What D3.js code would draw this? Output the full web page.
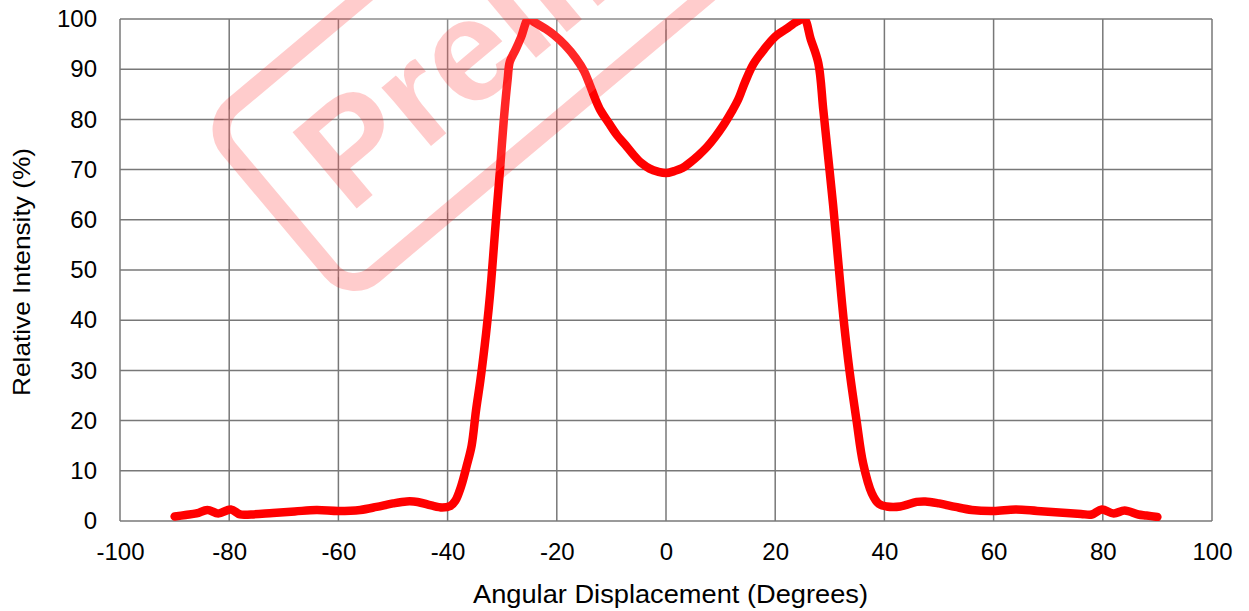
<!DOCTYPE html>
<html>
<head>
<meta charset="utf-8">
<script src="https://cdn.jsdelivr.net/npm/d3@7"></script>
<style>
  html, body { margin: 0; padding: 0; background: #ffffff; }
  svg { display: block; }
  text { font-family: "Liberation Sans", Arial, sans-serif; }
</style>
</head>
<body>
<svg id="chart" width="1249" height="611"></svg>
<script>
// Angular intensity profile
const angles = [-90, -88, -86, -84, -82, -79.7, -78, -76, -72, -68, -64, -60, -56, -53, -50, -47.5, -45.5, -43, -41, -39.5, -38.6,
  -37.5, -36.5, -35.6, -34.8, -34, -33.2, -32.5, -32, -31.5, -31, -30.4, -29.7, -29, -28.6, -27.5, -26.5, -25.2,
  -24, -22, -20.5, -18.5, -16.5, -15, -14, -13, -12, -10.5, -9, -7.5, -6, -4.5, -3, -1.5, 0,
  1.5, 3, 4.5, 6, 7.5, 9, 10.5, 12, 13.2, 14.5, 16, 18, 20, 22, 24, 25.3, 26.5, 27.9, 28.8, 29.7,
  30.6, 31.6, 32.5, 33.6, 34.9, 36.1, 37.7, 39, 40.4, 42.9, 45.9, 47.5, 50, 53, 56, 60, 64,
  68, 72, 76, 78, 79.8, 82, 84, 86.5, 88, 90];
const intensity = [0.9, 1.2, 1.5, 2.2, 1.5, 2.3, 1.3, 1.3, 1.6, 1.9, 2.2, 2.0, 2.2, 2.8, 3.5, 3.9, 3.8, 3.1, 2.7, 3.0, 4.0,
  7, 11, 15, 22, 28, 35, 42, 48, 55, 62, 70, 80, 88, 91.5, 94, 96.5, 100,
  99.3, 98, 96.8, 94.8, 92.2, 89.6, 87, 84.2, 81.8, 79.3, 76.9, 75, 73, 71.3, 70.2, 69.6, 69.3,
  69.7, 70.3, 71.5, 72.9, 74.5, 76.5, 78.8, 81.5, 83.9, 87.5, 91, 94, 96.5, 98, 99.5, 100, 96, 91.2, 82, 72.5,
  63, 51, 40.5, 30, 20, 11.5, 5.5, 3.4, 2.9, 2.9, 3.8, 3.9, 3.5, 2.8, 2.2, 2.0, 2.3,
  2.0, 1.7, 1.4, 1.3, 2.3, 1.5, 2.1, 1.3, 1.1, 0.8];

const xTicks = [-100, -80, -60, -40, -20, 0, 20, 40, 60, 80, 100];
const yTicks = [0, 10, 20, 30, 40, 50, 60, 70, 80, 90, 100];

const xTitle = "Angular Displacement (Degrees)";
const yTitle = "Relative Intensity (%)";
const stampText = "Preliminary";

const margin = { left: 120, top: 19, right: 37, bottom: 90 };
const W = 1249, H = 611;
const plotW = W - margin.left - margin.right;
const plotH = H - margin.top - margin.bottom;

const svg = d3.select("#chart");

const x = d3.scaleLinear().domain([-100, 100]).range([margin.left, margin.left + plotW]);
const y = d3.scaleLinear().domain([0, 100]).range([margin.top + plotH, margin.top]);

const gridColor = "#787878";
const fmt = d => String(d);

// Grid lines
const grid = svg.append("g");
grid.selectAll("line.v").data(xTicks).join("line")
  .attr("x1", d => x(d)).attr("x2", d => x(d))
  .attr("y1", y(0)).attr("y2", y(100))
  .attr("stroke", gridColor).attr("stroke-width", 1.5);
grid.selectAll("line.h").data(yTicks).join("line")
  .attr("x1", x(-100)).attr("x2", x(100))
  .attr("y1", d => y(d)).attr("y2", d => y(d))
  .attr("stroke", gridColor).attr("stroke-width", 1.5);

// Axes (labels only; the frame is drawn by the grid)
const xAxis = svg.append("g")
  .attr("transform", `translate(0,${y(0)})`)
  .call(d3.axisBottom(x).tickValues(xTicks).tickSize(0).tickPadding(22).tickFormat(fmt));
xAxis.select(".domain").remove();
xAxis.selectAll("text").attr("font-size", 24).attr("fill", "#000")
  .attr("font-family", "'Liberation Sans', Arial, sans-serif");

const yAxis = svg.append("g")
  .attr("transform", `translate(${x(-100)},0)`)
  .call(d3.axisLeft(y).tickValues(yTicks).tickSize(0).tickPadding(23).tickFormat(fmt));
yAxis.select(".domain").remove();
yAxis.selectAll("text").attr("font-size", 24).attr("fill", "#000")
  .attr("font-family", "'Liberation Sans', Arial, sans-serif");

// Axis titles
svg.append("text")
  .attr("x", 473).attr("y", 603)
  .attr("font-size", 25).attr("fill", "#000")
  .attr("textLength", 395).attr("lengthAdjust", "spacingAndGlyphs")
  .text(xTitle);
svg.append("text")
  .attr("transform", `translate(30,396) rotate(-90)`)
  .attr("font-size", 24.5).attr("fill", "#000")
  .attr("textLength", 248).attr("lengthAdjust", "spacingAndGlyphs")
  .text(yTitle);

// Data line, clipped to the plot area
svg.append("clipPath").attr("id", "plotClip")
  .append("rect")
  .attr("x", x(-100)).attr("y", y(100))
  .attr("width", x(100) - x(-100)).attr("height", y(0) - y(100));

const points = angles.map((a, i) => [a, intensity[i]]);
const line = d3.line()
  .x(d => x(d[0])).y(d => y(d[1]))
  .curve(d3.curveCatmullRom.alpha(0.5));

svg.append("path")
  .datum(points)
  .attr("clip-path", "url(#plotClip)")
  .attr("d", line)
  .attr("fill", "none")
  .attr("stroke", "#ff0000")
  .attr("stroke-width", 8.5)
  .attr("stroke-linejoin", "round")
  .attr("stroke-linecap", "round");

// Translucent "Preliminary" stamp
const stamp = svg.append("g")
  .attr("transform", "translate(280,210) rotate(-40)");
stamp.append("rect")
  .attr("x", 0).attr("y", -110).attr("width", 1150).attr("height", 220)
  .attr("rx", 30).attr("ry", 30)
  .attr("fill", "#ffffff").attr("fill-opacity", 0.15)
  .attr("stroke", "#ff0000").attr("stroke-opacity", 0.2).attr("stroke-width", 18);
stamp.append("text")
  .attr("x", 50).attr("y", 48)
  .attr("font-size", 145).attr("font-weight", "bold")
  .attr("fill", "#ff0000").attr("fill-opacity", 0.2)
  .text(stampText);
</script>
</body>
</html>
